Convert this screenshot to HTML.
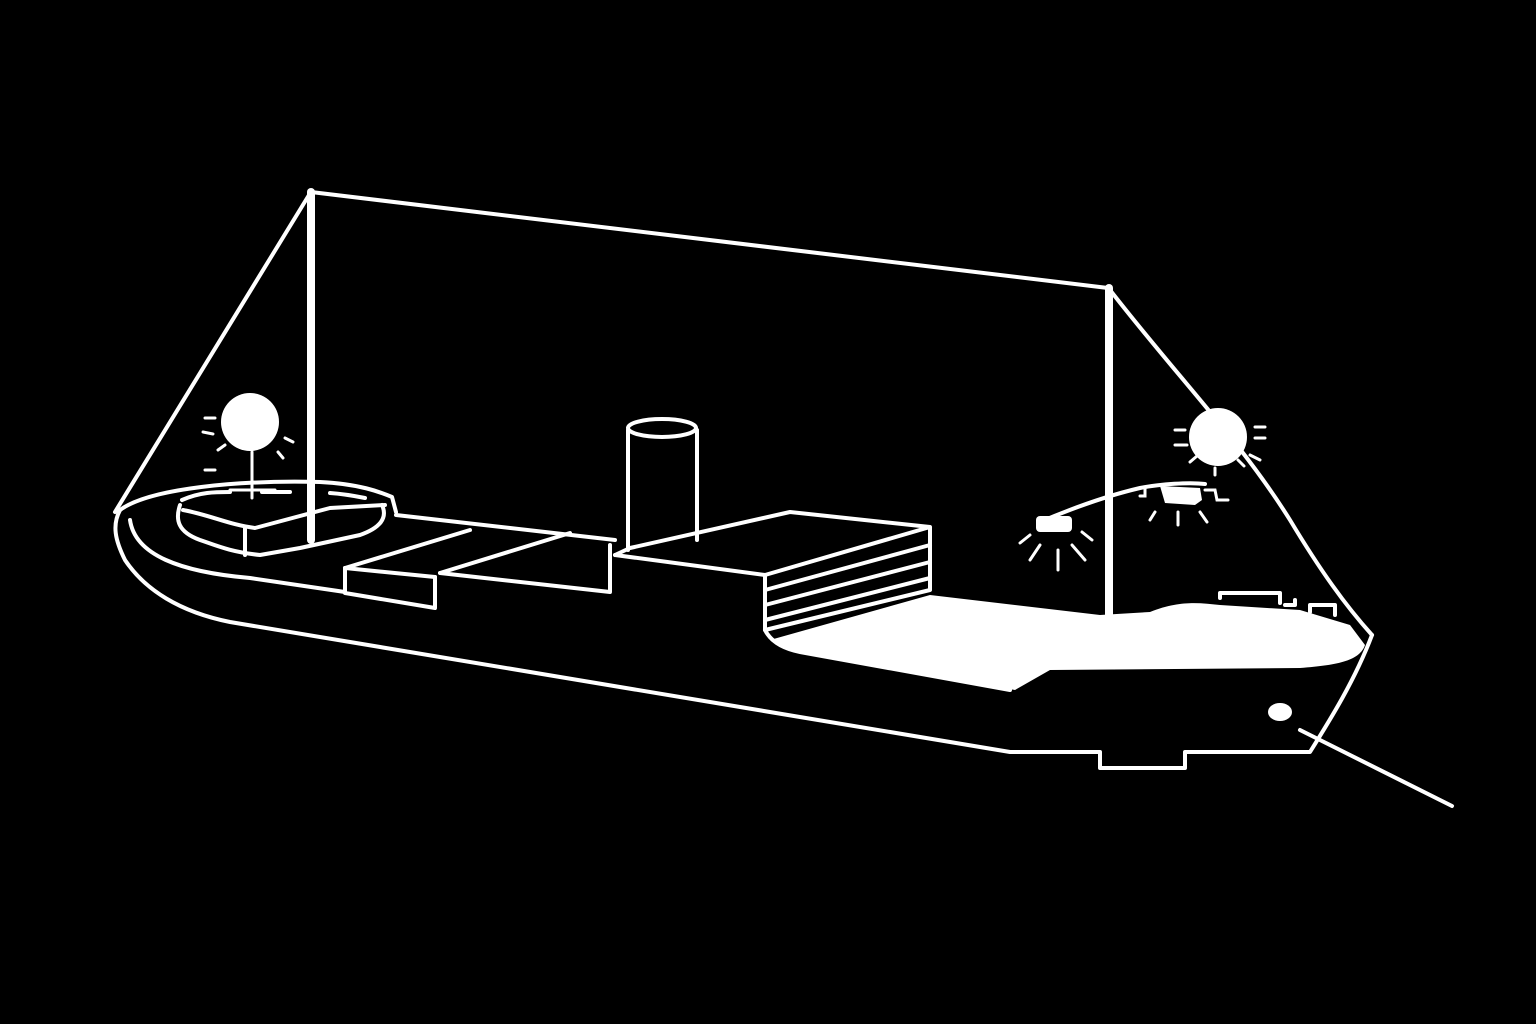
<!DOCTYPE html>
<html><head><style>html,body{margin:0;padding:0;background:#000;}svg{display:block}</style></head>
<body>
<svg width="1536" height="1024" viewBox="0 0 1536 1024" xmlns="http://www.w3.org/2000/svg">
<rect width="1536" height="1024" fill="#000"/>
<g fill="none" stroke="#fff" stroke-width="4" stroke-linecap="round" stroke-linejoin="round">
<path d="M311 192 L1108 288"/>
<path d="M309 195 L115 512"/>
<path d="M1110 290 C1180 380 1240 440 1290 520 C1320 570 1345 605 1372 635"/>
<path d="M120 510 C112 525 115 540 125 560 C145 590 180 612 230 622 L1010 752 L1100 752 V768 L1185 768 V752 L1310 752 C1330 720 1355 680 1372 635"/>
<path d="M1300 730 C1330 745 1380 770 1452 806"/>
<path d="M120 510 C150 488 240 480 320 482 C360 484 380 492 392 497 L396 512"/>
<path d="M130 520 C135 555 180 572 250 578 L345 592"/>
<path d="M180 505 C175 520 178 532 200 540 C215 545 230 552 260 555 L300 548 L360 535 C380 528 388 518 382 505"/>
<path d="M183 510 C210 515 230 525 255 528 L330 508 L385 505"/>
<path d="M245 528 V555"/>
<path d="M182 500 C200 492 215 492 230 492 M262 492 H290 M330 493 C345 494 355 496 365 498"/>
<path d="M396 515 L615 540"/>
<!-- slabs -->
<path d="M345 568 L470 530"/>
<path d="M345 568 L435 577"/>
<path d="M345 568 V593 L435 608 V577"/>
<path d="M440 573 L570 533"/>
<path d="M440 573 L610 592 V545"/>
<!-- funnel -->
<path d="M628 430 V550 M697 430 V540"/>
<ellipse cx="662" cy="428" rx="34" ry="9"/>
<path d="M615 555 L630 548 L790 512 L930 527 L930 590 L765 630 L765 575 L930 527"/>
<path d="M765 575 L615 555"/>
<path d="M765 590 L930 545 M765 605 L930 562 M765 620 L930 578"/>
<path d="M765 630 C770 640 780 648 800 652 L1010 690"/>
<path d="M1040 522 C1080 505 1110 495 1140 488 C1160 484 1190 482 1205 484"/>
<path d="M1220 598 V593 H1280 V603 M1285 605 H1295 V600 M1310 612 V605 H1335 V615"/>
</g>
<g stroke="#fff" stroke-width="8" stroke-linecap="round">
<path d="M311 192 V540"/>
<path d="M1109 288 V628"/>
</g>
<path fill="#fff" d="M770 640 L930 595 L1100 615 L1150 612 C1180 600 1200 603 1220 605 L1300 610 L1350 625 L1365 645 C1360 660 1340 665 1300 668 L1050 670 L1015 690 L800 652 C785 648 775 645 770 640 Z"/>
<g fill="#fff">
<circle cx="250" cy="422" r="29"/>
<circle cx="1218" cy="437" r="29"/>
<ellipse cx="1280" cy="712" rx="12" ry="9"/>
<path d="M1160 486 L1200 488 L1202 500 L1195 505 L1165 503 Z"/>
<rect x="1036" y="516" width="36" height="16" rx="4"/>
</g>
<g stroke="#fff" stroke-width="3" stroke-linecap="round" fill="none">
<path d="M252 452 V498 M230 490 H275"/>
<path d="M205 418 H215 M203 432 L213 434 M218 450 L225 445 M285 438 L293 442 M278 452 L283 458 M205 470 L215 470"/>
<path d="M1175 430 H1185 M1175 445 H1187 M1190 462 L1197 456 M1215 475 V468 M1238 460 L1244 466 M1250 455 L1260 460 M1255 427 H1265 M1255 438 H1265"/>
<path d="M1030 535 L1020 543 M1040 545 L1030 560 M1058 550 V570 M1072 545 L1085 560 M1082 532 L1092 540"/>
<path d="M1155 512 L1150 520 M1178 512 V525 M1200 512 L1207 522"/>
<path d="M1145 488 V496 H1140 M1205 490 L1215 490 L1217 500 L1228 500"/>
</g>
</svg>
</body></html>
